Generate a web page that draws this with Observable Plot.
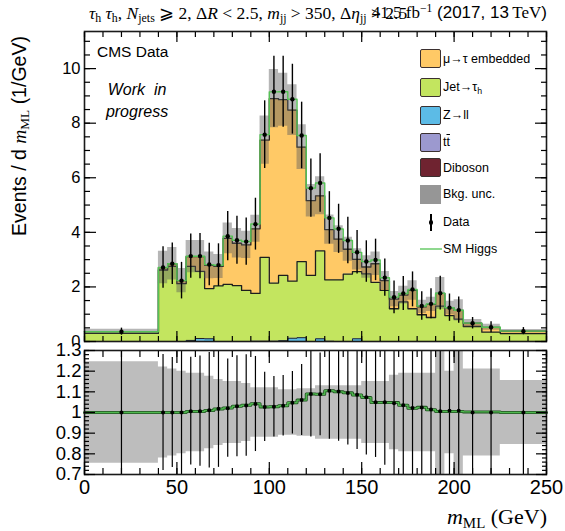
<!DOCTYPE html>
<html>
<head>
<meta charset="utf-8">
<script src="https://cdn.jsdelivr.net/npm/d3@7"></script>
<script src="https://cdn.jsdelivr.net/npm/@observablehq/plot@0.6"></script>
<style>
  body { margin: 0; background: #fff; }
  #wrap { position: relative; width: 565px; height: 531px; overflow: hidden; font-family: "Liberation Sans", Arial, sans-serif; color: #000; }
  #wrap svg { position: absolute; left: 0; }
  .t { position: absolute; white-space: nowrap; line-height: 20px; }
  .serif { font-family: "Liberation Serif", "DejaVu Serif", serif; }
  .t sub { font-size: 68%; vertical-align: -0.28em; line-height: 0; }
  .t sup { font-size: 68%; vertical-align: 0.55em; line-height: 0; }
  .leg { position: absolute; left: 420px; width: 21px; height: 19px; box-sizing: border-box; border: 1.3px solid #3b3030; border-radius: 2px; }
  .legtxt { position: absolute; left: 443px; font-size: 12.5px; line-height: 14px; white-space: nowrap; }
  .legtxt sub { font-size: 70%; vertical-align: -0.3em; line-height: 0; }
</style>
</head>
<body>
<div id="wrap"></div>
<script>
// m_ML binning (GeV)
const binEdges = [0, 40, 45, 50, 55, 60, 65, 70, 75, 80, 85, 90, 95, 100, 105, 110, 115, 120, 125, 130,
  135, 140, 145, 150, 155, 160, 165, 170, 175, 180, 185, 190, 195, 200, 205, 215, 225, 250];

// Background processes, events / GeV, stacked bottom to top
const dibosonVals = [0, 0, 0, 0, 0, 0, 0, 0, 0, 0, 0, 0, 0.01, 0, 0, 0, 0, 0, 0, 0,
  0, 0, 0, 0, 0, 0, 0, 0, 0, 0, 0, 0, 0, 0, 0, 0, 0];
const ttbarVals = [0, 0, 0, 0, 0, 0.01, 0, 0, 0, 0, 0, 0.01, 0, 0.01, 0, 0, 0, 0, 0, 0.01,
  0, 0, 0, 0, 0, 0, 0, 0, 0, 0, 0, 0, 0, 0, 0, 0, 0];
const zllVals = [0, 0, 0, 0, 0.04, 0.10, 0.10, 0, 0, 0, 0, 0, 0, 0, 0.03, 0.12, 0.14, 0, 0.10, 0,
  0, 0, 0.10, 0, 0, 0, 0, 0, 0, 0, 0, 0, 0, 0, 0, 0, 0];
const jetFakeVals = [0.30, 2.62, 2.75, 2.12, 2.71, 2.46, 1.84, 2.04, 2.09, 2.05, 1.87, 1.75, 3.07, 2.13, 2.39, 2.09, 2.79, 2.42, 3.22, 2.25,
  2.26, 2.47, 2.46, 2.48, 2.17, 1.87, 1.20, 1.45, 1.20, 0.98, 0.88, 1.30, 0.95, 0.82, 0.55, 0.34, 0.29];
const embeddedVals = [0.06, 0.09, 0.10, 0.11, 0.36, 0.54, 0.85, 0.71, 1.69, 1.55, 1.67, 2.37, 4.30, 6.76, 6.44, 6.27, 4.19, 2.74, 2.02, 1.84,
  1.49, 0.91, 0.45, 0.25, 0.68, 0.36, 0.35, 0.25, 0.67, 0.29, 0.48, 0.46, 0.28, 0.32, 0.12, 0.18, 0.09];

// Relative background uncertainty per bin
const bkgUnc = [0.245, 0.22, 0.21, 0.20, 0.19, 0.19, 0.175, 0.16, 0.15, 0.15, 0.14, 0.12, 0.12, 0.12, 0.11, 0.11, 0.115, 0.115, 0.13, 0.13,
  0.13, 0.13, 0.13, 0.15, 0.15, 0.15, 0.18, 0.19, 0.19, 0.19, 0.19, 0.33, 0.20, 0.34, 0.21, 0.21, 0.155];

// (signal + background) / background
const sbRatio = [1.0, 1.0, 1.0, 1.0, 1.005, 1.005, 1.01, 1.017, 1.022, 1.03, 1.035, 1.042, 1.027, 1.028, 1.033, 1.047, 1.06, 1.09, 1.088, 1.105,
  1.10, 1.095, 1.085, 1.072, 1.048, 1.048, 1.048, 1.035, 1.02, 1.025, 1.013, 1.005, 1.005, 1.005, 1.003, 1.003, 1.0];

// Data, events / GeV, with statistical errors
const dataVals = [0.36, 2.71, 2.85, 2.23, 3.13, 3.13, 2.82, 2.80, 3.86, 3.71, 3.66, 4.30, 7.58, 9.15, 9.15, 8.88, 7.55, 5.62, 5.81, 4.53,
  4.13, 3.70, 3.27, 2.93, 2.99, 2.34, 1.62, 1.76, 1.91, 1.30, 1.38, 1.77, 1.24, 1.15, 0.67, 0.52, 0.38];
const dataErr = [0.13, 0.76, 0.76, 0.67, 0.81, 0.83, 0.78, 0.78, 0.90, 0.88, 0.87, 0.95, 1.24, 1.30, 1.30, 1.28, 1.22, 1.07, 1.07, 0.96,
  0.90, 0.85, 0.80, 0.76, 0.76, 0.68, 0.60, 0.62, 0.64, 0.52, 0.55, 0.62, 0.50, 0.48, 0.21, 0.20, 0.13];

// Axis ticks
const mainYTicks = [0, 2, 4, 6, 8, 10];
const ratioYTicks = [0.7, 0.8, 0.9, 1, 1.1, 1.2, 1.3];
const xTicks = [0, 50, 100, 150, 200, 250];

const processes = [
  {key: "Diboson", vals: dibosonVals, fill: "#6f2330"},
  {key: "ttbar", vals: ttbarVals, fill: "#9c99cf"},
  {key: "Zll", vals: zllVals, fill: "#5cbbe6"},
  {key: "Jet", vals: jetFakeVals, fill: "#c3e55f"},
  {key: "Emb", vals: embeddedVals, fill: "#ffc966"}
];

const bins = binEdges.slice(0, -1).map((lo, i) => ({i, lo, hi: binEdges[i + 1], mid: (lo + binEdges[i + 1]) / 2}));

// Stacked histogram as step-shaped bands, plus the step outline of each cumulative top
const cum = bins.map(() => 0);
const stackSteps = [];
const outlines = {};
for (const p of processes) {
  const seg = [];
  bins.forEach((b, i) => {
    const y1 = cum[i], y2 = cum[i] + p.vals[i];
    stackSteps.push({key: p.key, fill: p.fill, x: b.lo, y1, y2}, {key: p.key, fill: p.fill, x: b.hi, y1, y2});
    cum[i] = y2;
    seg.push({x: b.lo, y: y2}, {x: b.hi, y: y2});
  });
  outlines[p.key] = seg;
}
const bkg = cum.slice();

const stepsOf = f => bins.flatMap(b => [{x: b.lo, y: f(b)}, {x: b.hi, y: f(b)}]);
const bandOf = (lo, hi) => bins.flatMap(b => [{x: b.lo, y1: lo(b), y2: hi(b)}, {x: b.hi, y1: lo(b), y2: hi(b)}]);
const higgsSteps = stepsOf(b => bkg[b.i] * sbRatio[b.i]);
const ratioSteps = stepsOf(b => sbRatio[b.i]);
const mainBand = bandOf(b => bkg[b.i] * (1 - bkgUnc[b.i]), b => bkg[b.i] * (1 + bkgUnc[b.i]));
const ratioBand = bandOf(b => Math.max(0.69, 1 - bkgUnc[b.i]), b => Math.min(1.31, 1 + bkgUnc[b.i]));

const noText = () => "";
const font = "'Liberation Sans', Arial, sans-serif";

// Inward ticks on all four sides
function ticksX(minor, major, minorLen, majorLen) {
  return ["top", "bottom"].flatMap(a => [
    Plot.axisX(minor, {anchor: a, tickSize: -minorLen, tickFormat: noText, label: null, strokeWidth: 1.2}),
    Plot.axisX(major, {anchor: a, tickSize: -majorLen, tickFormat: noText, label: null, strokeWidth: 1.2})
  ]);
}
function ticksY(minor, major, minorLen, majorLen) {
  return ["left", "right"].flatMap(a => [
    Plot.axisY(minor, {anchor: a, tickSize: -minorLen, tickFormat: noText, label: null, strokeWidth: 1.2}),
    Plot.axisY(major, {anchor: a, tickSize: -majorLen, tickFormat: noText, label: null, strokeWidth: 1.2})
  ]);
}

const main = Plot.plot({
  width: 565, height: 345,
  marginLeft: 84, marginRight: 19, marginTop: 31, marginBottom: 4,
  x: {domain: [0, 250], axis: null},
  y: {domain: [0, 11.36], axis: null},
  color: {type: "identity"},
  style: {fontFamily: font, color: "#000", background: "transparent"},
  marks: [
    Plot.area(stackSteps, {x1: "x", y1: "y1", y2: "y2", z: "key", fill: "fill"}),
    Plot.line(outlines.Zll, {x: "x", y: "y", stroke: "#222", strokeWidth: 1}),
    Plot.line(outlines.Jet, {x: "x", y: "y", stroke: "#1d1d1d", strokeWidth: 1.3}),
    Plot.line(outlines.Emb, {x: "x", y: "y", stroke: "#1d1d1d", strokeWidth: 1.3}),
    Plot.area(mainBand, {x1: "x", y1: "y1", y2: "y2", fill: "#5e5e5e", fillOpacity: 0.45}),
    Plot.line(higgsSteps, {x: "x", y: "y", stroke: "#55c255", strokeWidth: 1.4}),
    Plot.ruleX(bins, {x: "mid", y1: b => dataVals[b.i] - dataErr[b.i], y2: b => dataVals[b.i] + dataErr[b.i], stroke: "#000", strokeWidth: 1.4}),
    Plot.dot(bins, {x: "mid", y: b => dataVals[b.i], r: 2.2, fill: "#000"}),
    Plot.frame({stroke: "#1a1a1a", strokeWidth: 1.6}),
    ...ticksX(d3.range(0, 251, 10), xTicks, 5, 10),
    ...ticksY(d3.range(0, 11.3, 0.5), mainYTicks, 6, 12),
    Plot.axisY(mainYTicks, {anchor: "left", tickSize: 0, tickPadding: 4, fontSize: 16.5, label: null})
  ]
});
main.style.top = "0px";

const ratio = Plot.plot({
  width: 565, height: 189,
  marginLeft: 84, marginRight: 19, marginTop: 8, marginBottom: 57,
  x: {domain: [0, 250], axis: null},
  y: {domain: [0.7, 1.3], axis: null},
  style: {fontFamily: font, color: "#000", background: "transparent"},
  marks: [
    Plot.area(ratioBand, {x1: "x", y1: "y1", y2: "y2", fill: "#bdbdbd", clip: true}),
    Plot.ruleX(bins, {x: "mid", y1: b => (dataVals[b.i] - dataErr[b.i]) / bkg[b.i], y2: b => (dataVals[b.i] + dataErr[b.i]) / bkg[b.i],
      stroke: "#000", strokeWidth: 1.2, clip: true}),
    Plot.line(ratioSteps, {x: "x", y: "y", stroke: "#1f4f1f", strokeWidth: 3}),
    Plot.line(ratioSteps, {x: "x", y: "y", stroke: "#4fb84f", strokeWidth: 1.4}),
    Plot.dot(bins, {x: "mid", y: b => dataVals[b.i] / bkg[b.i], r: 2, fill: "#000"}),
    Plot.frame({stroke: "#1a1a1a", strokeWidth: 1.6}),
    ...ticksX(d3.range(0, 251, 10), xTicks, 6, 12),
    ...ticksY(d3.range(0.7, 1.301, 0.02), ratioYTicks, 5, 11),
    Plot.axisY(ratioYTicks, {anchor: "left", tickSize: 0, tickPadding: 3, fontSize: 18.5, label: null, tickFormat: d => String(+d.toFixed(1))}),
    Plot.axisX(xTicks, {anchor: "bottom", tickSize: 0, tickPadding: 5, fontSize: 20, label: null})
  ]
});
ratio.style.top = "342px";

const wrap = document.getElementById("wrap");
wrap.append(main, ratio);

// Text overlays: header, axis titles, annotations, legend
const html = `
<div class="t serif" style="left:89px;top:3px;font-size:17.5px">
  <i>τ</i><sub>h</sub> <i>τ</i><sub>h</sub>, <i>N</i><sub>jets</sub> ⩾ 2, Δ<i>R</i> &lt; 2.5, <i>m</i><sub>jj</sub> &gt; 350, Δ<i>η</i><sub>jj</sub> &gt; 2.5
</div>
<div class="t" style="right:18px;top:3px;font-size:17px">
  <span class="serif">41.5 fb<sup>−1</sup></span>&nbsp;(2017, 13<span class="serif">&#8201;TeV</span>)
</div>
<div class="t" style="left:19px;top:136px;font-size:19.5px;transform:translate(-50%,-50%) rotate(-90deg);transform-origin:center">
  Events / d <span class="serif"><i>m</i><sub>ML</sub></span> (1/GeV)
</div>
<div class="t serif" style="right:18px;top:505px;font-size:22px;line-height:24px">
  <i>m</i><sub>ML</sub> (GeV)
</div>
<div class="t" style="left:97px;top:42px;font-size:15.5px">CMS Data</div>
<div class="t" style="left:137px;top:79px;font-size:16px;font-style:italic;transform:translateX(-50%);text-align:center;line-height:22px">Work&nbsp; in<br>progress</div>

<div class="leg" style="top:49px;background:#ffc966"></div>
<div class="legtxt" style="top:52px">μ→τ embedded</div>
<div class="leg" style="top:78px;background:#c3e55f"></div>
<div class="legtxt" style="top:80px">Jet→τ<sub>h</sub></div>
<div class="leg" style="top:106px;background:#5cbbe6"></div>
<div class="legtxt" style="top:108px">Z→ll</div>
<div class="leg" style="top:133px;background:#9c99cf"></div>
<div class="legtxt" style="top:135px">t<span style="text-decoration:overline">t</span></div>
<div class="leg" style="top:158px;background:#6f2330"></div>
<div class="legtxt" style="top:161px">Diboson</div>
<div class="leg" style="top:185px;background:#969696;border:none;border-radius:0"></div>
<div class="legtxt" style="top:187px">Bkg. unc.</div>
<div style="position:absolute;left:430px;top:214px;width:1.5px;height:17px;background:#000"></div>
<div style="position:absolute;left:428.5px;top:220px;width:4.5px;height:4.5px;border-radius:50%;background:#000"></div>
<div class="legtxt" style="top:215px">Data</div>
<div style="position:absolute;left:420px;top:248px;width:22px;height:2px;background:#8fd88f"></div>
<div class="legtxt" style="top:242px">SM Higgs</div>
`;
wrap.insertAdjacentHTML("beforeend", html);
</script>
</body>
</html>
